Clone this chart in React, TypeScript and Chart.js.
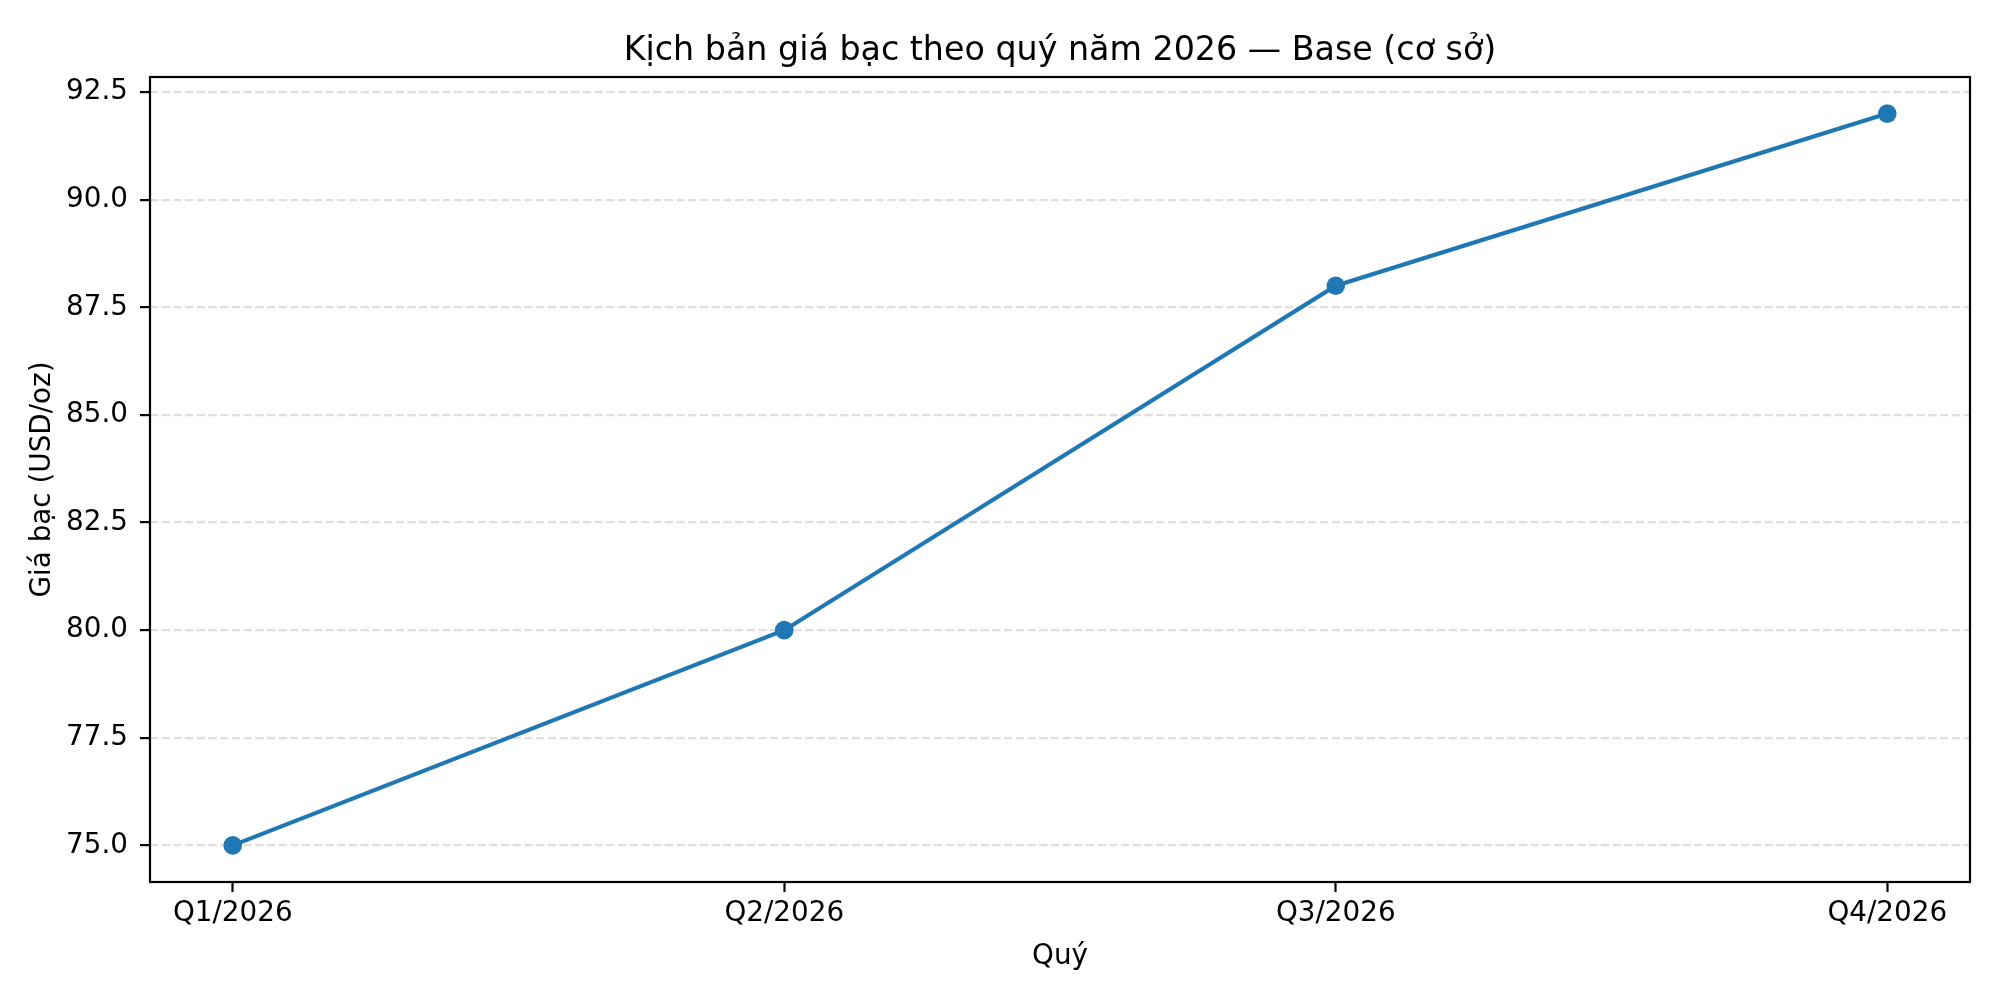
import React, { useEffect, useRef } from "react";
import { Chart, registerables } from "chart.js";

Chart.register(...registerables);

const categories = ["Q1/2026", "Q2/2026", "Q3/2026", "Q4/2026"];
const prices = [75, 80, 88, 92];
const yTicks = [75, 77.5, 80, 82.5, 85, 87.5, 90, 92.5];

const titleText = "Kịch bản giá bạc theo quý năm 2026 — Base (cơ sở)";
const xTitle = "Quý";
const yTitle = "Giá bạc (USD/oz)";

const FONT = "'DejaVu Sans', sans-serif";

const textPlugin = {
  id: "mplText",
  afterDraw(chart: any) {
    const { ctx, chartArea } = chart;
    const { left, right, top, bottom } = chartArea;
    ctx.save();
    // frame
    ctx.strokeStyle = "#000";
    ctx.lineWidth = 2.2;
    ctx.setLineDash([]);
    ctx.strokeRect(left, top, right - left, bottom - top);
    ctx.fillStyle = "#000";
    const cx = (left + right) / 2;
    // title
    ctx.font = `33.3px ${FONT}`;
    ctx.textAlign = "center";
    ctx.textBaseline = "alphabetic";
    ctx.fillText(titleText, cx, top - 16.7);
    // x title
    ctx.font = `27.8px ${FONT}`;
    ctx.fillText(xTitle, cx, 964);
    // y title
    ctx.translate(50, (top + bottom) / 2);
    ctx.rotate(-Math.PI / 2);
    ctx.fillText(yTitle, 0, 0);
    ctx.restore();
  },
};

export default function App() {
  const ref = useRef<HTMLCanvasElement>(null);
  useEffect(() => {
    document.body.style.margin = "0";
    const canvas = ref.current!;
    const chart = new Chart(canvas, {
      type: "line",
      data: {
        datasets: [
          {
            data: prices.map((v, i) => ({ x: i, y: v })),
            borderColor: "#1f77b4",
            backgroundColor: "#1f77b4",
            borderWidth: 4.2,
            pointRadius: 9.3,
            pointBorderWidth: 0,
            pointBackgroundColor: "#1f77b4",
            tension: 0,
            fill: false,
          },
        ],
      },
      options: {
        animation: false,
        responsive: false,
        devicePixelRatio: 1,
        layout: { padding: { top: 77, right: 30, left: 0, bottom: 0 } },
        plugins: {
          legend: { display: false },
          title: { display: false },
          tooltip: { enabled: false },
        },
        scales: {
          x: {
            type: "linear",
            min: -0.15,
            max: 3.15,
            afterFit: (s: any) => {
              s.height = 118;
            },
            afterBuildTicks: (s: any) => {
              s.ticks = categories.map((_, i) => ({ value: i }));
            },
            border: { display: false },
            grid: {
              drawOnChartArea: false,
              drawTicks: true,
              tickLength: 10,
              tickColor: "#000",
              tickWidth: 2.2,
            },
            ticks: {
              padding: 5,
              color: "#000",
              font: { family: FONT, size: 27.8 },
              maxRotation: 0,
              autoSkip: false,
              callback: (v: any) => categories[Math.round(Number(v))] ?? "",
            },
          },
          y: {
            type: "linear",
            min: 74.15,
            max: 92.85,
            afterFit: (s: any) => {
              s.width = 150;
            },
            afterBuildTicks: (s: any) => {
              s.ticks = yTicks.map((v) => ({ value: v }));
            },
            border: { display: false, dash: [8.2, 3.5] },
            grid: {
              color: "rgba(176,176,176,0.4)",
              lineWidth: 2.2,
              drawTicks: true,
              tickLength: 10,
              tickColor: "#000",
              tickWidth: 2.2,
              tickBorderDash: [],
            },
            ticks: {
              padding: 12,
              color: "#000",
              font: { family: FONT, size: 27.8 },
              autoSkip: false,
              callback: (v: any) => Number(v).toFixed(1),
            },
          },
        },
      },
      plugins: [textPlugin],
    } as any);
    return () => chart.destroy();
  }, []);
  return (
    <div style={{ position: "absolute", left: 0, top: 0, width: 2000, height: 1000, background: "#fff" }}>
      <canvas ref={ref} width={2000} height={1000} style={{ width: 2000, height: 1000 }} />
    </div>
  );
}
